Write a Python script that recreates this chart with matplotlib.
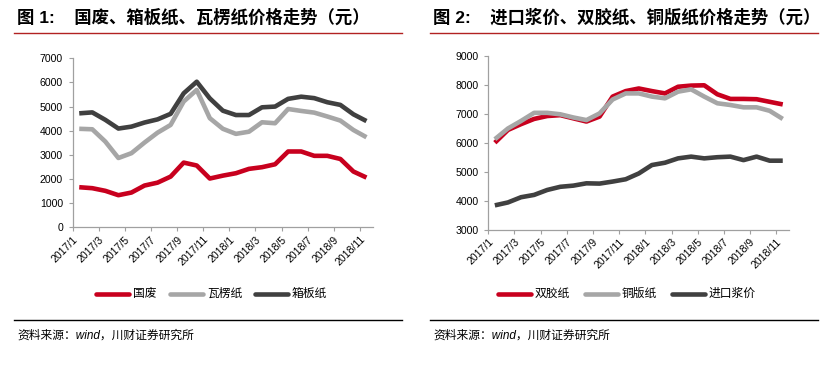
import matplotlib
matplotlib.use("Agg")
import matplotlib.pyplot as plt
from matplotlib.lines import Line2D

FONTS = ["Liberation Sans", "Noto Sans CJK SC", "DejaVu Sans"]
plt.rcParams["font.family"] = FONTS

months = ["2017/1", "2017/2", "2017/3", "2017/4", "2017/5", "2017/6", "2017/7", "2017/8",
          "2017/9", "2017/10", "2017/11", "2017/12", "2018/1", "2018/2", "2018/3", "2018/4",
          "2018/5", "2018/6", "2018/7", "2018/8", "2018/9", "2018/10", "2018/11"]

# figure 1
guofei = [1660, 1620, 1510, 1330, 1440, 1730, 1850, 2100, 2680, 2560, 2020, 2140,
          2240, 2420, 2490, 2610, 3140, 3140, 2960, 2960, 2830, 2310, 2060]
walengzhi = [4080, 4060, 3550, 2870, 3070, 3510, 3920, 4240, 5210, 5690, 4520, 4080,
             3870, 3960, 4350, 4310, 4900, 4820, 4750, 4590, 4420, 4030, 3730]
xiangbanzhi = [4720, 4760, 4450, 4090, 4170, 4340, 4470, 4700, 5550, 6030, 5340, 4830,
               4650, 4650, 4970, 5000, 5320, 5410, 5350, 5180, 5070, 4680, 4400]

# figure 2
shuangjiaozhi = [6010, 6450, 6650, 6830, 6930, 6960, 6850, 6740, 6910, 7600, 7790, 7880,
                 7790, 7710, 7940, 7980, 7990, 7680, 7520, 7520, 7510, 7420, 7330]
tongbanzhi = [6130, 6500, 6760, 7040, 7040, 6990, 6880, 6790, 7020, 7500, 7710, 7710,
              7600, 7540, 7770, 7850, 7600, 7370, 7310, 7230, 7230, 7110, 6830]
jinkoujiang = [3850, 3950, 4130, 4210, 4380, 4490, 4530, 4610, 4600, 4670, 4750, 4950,
               5240, 5320, 5470, 5530, 5470, 5510, 5530, 5410, 5530, 5390, 5390]

RED = "#C8001E"
GRAY = "#A6A6A6"
DARK = "#404040"
AXC = "#A0A0A0"

W, H = 839, 373
fig = plt.figure(figsize=(W / 100, H / 100), dpi=100)


def px(x, y):
    return x / W, 1 - y / H


def panel(rect, title, series, ylim, ystep, legend_x, x0, x1):
    ax = fig.add_axes(rect)
    xs = list(range(len(months)))
    for vals, color, _ in series:
        ax.plot(xs, vals, color=color, lw=3.3, solid_capstyle="butt", solid_joinstyle="round")
    ax.set_xlim(-0.5, len(months) - 0.5)
    ax.set_ylim(*ylim)
    ax.set_yticks(range(ylim[0], ylim[1] + 1, ystep))
    ticks = [i - 0.5 for i in range(0, len(months), 2)]
    ax.set_xticks(ticks)
    ax.set_xticklabels(months[::2], rotation=45, ha="right", va="top",
                       rotation_mode="anchor", fontsize=7.6)
    ax.tick_params(axis="y", labelsize=7.6, length=3, width=0.8, color=AXC, pad=4)
    ax.tick_params(axis="x", length=3, width=0.8, color=AXC, pad=2)
    for s in ("top", "right"):
        ax.spines[s].set_visible(False)
    for s in ("left", "bottom"):
        ax.spines[s].set_color(AXC)
        ax.spines[s].set_linewidth(0.9)

    # title + red rule
    tx, ty = px(x0 + 3, 17)
    fig.text(tx, ty, title, fontsize=12.5, fontweight="bold", va="center", ha="left")
    fig.add_artist(Line2D([x0 / W, x1 / W], [1 - 33 / H] * 2, color="#B22222", lw=1.0))

    # legend drawn by hand to keep the spacing
    ly = 1 - 294 / H
    for (vals, color, name), lx in zip(series, legend_x):
        fig.add_artist(Line2D([lx / W, (lx + 33) / W], [ly, ly], color=color, lw=3.3,
                              solid_capstyle="round"))
        fig.text((lx + 37) / W, ly, name, fontsize=8.5, va="center", ha="left")

    # bottom rule + source
    fig.add_artist(Line2D([x0 / W, x1 / W], [1 - 320 / H] * 2, color="black", lw=1.0))
    sx, sy = px(x0 + 3, 336)
    fig.text(sx, sy, "资料来源：wind，川财证券研究所", fontsize=8.5, style="italic",
             va="center", ha="left")
    return ax


panel([72.7 / W, 1 - 227.3 / H, 300.3 / W, 169 / H],
      "图 1:    国废、箱板纸、瓦楞纸价格走势（元）",
      [(guofei, RED, "国废"), (walengzhi, GRAY, "瓦楞纸"), (xiangbanzhi, DARK, "箱板纸")],
      (0, 7000), 1000, [96, 170, 255], 14, 402)

panel([488.3 / W, 1 - 230 / H, 301 / W, 174 / H],
      "图 2:    进口浆价、双胶纸、铜版纸价格走势（元）",
      [(shuangjiaozhi, RED, "双胶纸"), (tongbanzhi, GRAY, "铜版纸"), (jinkoujiang, DARK, "进口浆价")],
      (3000, 9000), 1000, [498, 585, 672], 430, 818)

fig.savefig("out.png", dpi=100)
